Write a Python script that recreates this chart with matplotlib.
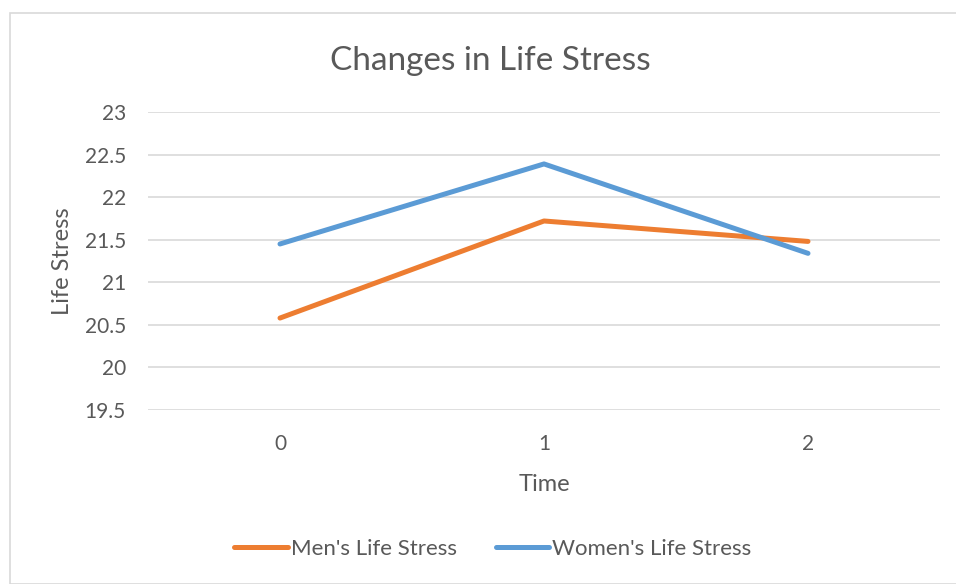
import matplotlib.pyplot as plt
from matplotlib.patches import Rectangle

# --- DATA ---
time_points = [0, 1, 2]
men_stress = [20.58, 21.72, 21.48]
women_stress = [21.45, 22.39, 21.34]
y_ticks = [19.5, 20, 20.5, 21, 21.5, 22, 22.5, 23]

TEXT = "#595959"
GRID = "#d9d9d9"
plt.rcParams['font.family'] = ['Lato', 'DejaVu Sans']

fig = plt.figure(figsize=(9.56, 5.84), dpi=100)
W, H = 956, 584

# chart area border like Excel
fig.patches.append(Rectangle((10 / W, 0), 1.0, 1 - 13 / H, transform=fig.transFigure,
                             fill=False, edgecolor=GRID, linewidth=1.2))

ax = fig.add_axes([148 / W, 1 - 410 / H, (940 - 148) / W, (410 - 112) / H])
ax.plot(time_points, men_stress, color="#ED7D31", linewidth=3.6,
        solid_capstyle='round', label="Men's Life Stress", zorder=3)
ax.plot(time_points, women_stress, color="#5B9BD5", linewidth=3.6,
        solid_capstyle='round', label="Women's Life Stress", zorder=3)

ax.set_xlim(-0.5, 2.5)
ax.set_ylim(19.5, 23)
ax.set_xticks(time_points)
ax.set_yticks(y_ticks)
ax.set_yticklabels([f"{v:g}" for v in y_ticks])
ax.grid(axis='y', color=GRID, linewidth=1.2)
ax.set_axisbelow(True)
for s in ax.spines.values():
    s.set_visible(False)
ax.tick_params(length=0, labelsize=15, colors=TEXT)
ax.tick_params(axis='y', pad=16)
ax.tick_params(axis='x', pad=17)

fig.text(490 / W, 1 - 61 / H, "Changes in Life Stress", fontsize=24, color=TEXT,
         ha='center', va='center')
ax.set_xlabel("Time", fontsize=17, color=TEXT, labelpad=15)
ax.set_ylabel("Life Stress", fontsize=17, color=TEXT, labelpad=8)

ax.legend(loc='center', bbox_to_anchor=(493 / W, 1 - 549 / H), bbox_transform=fig.transFigure,
          ncol=2, frameon=False, fontsize=16, labelcolor=TEXT, handlelength=2.4,
          handletextpad=0.15, columnspacing=1.75)

fig.savefig("out.png", dpi=100)
